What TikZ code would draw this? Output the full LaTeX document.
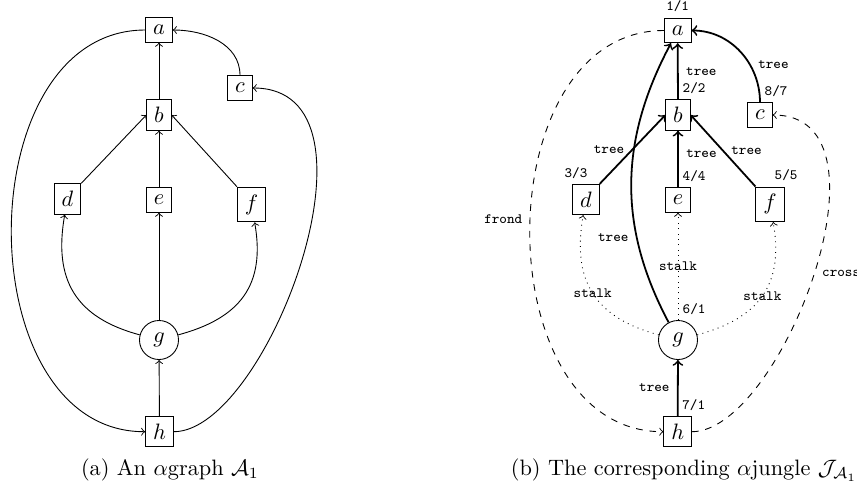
\documentclass[tikz,border=0pt]{standalone}
\usepackage{amsmath}
\usepackage{tikz}

\tikzset{
  vertex/.style={draw, rectangle},
  roundvertex/.style={draw, circle, inner sep=0pt, minimum size=17.5pt},
  lbl/.style={font=\fontsize{6.4}{7}\selectfont\ttfamily},
  numright/.style={xshift=7.2pt, yshift=-1pt},
  treeedge/.style={thick},
  stalkedge/.style={dotted},
  frondedge/.style={dashed},
  crossedge/.style={dashed},
  every label/.style={lbl},
}

\begin{document}
\begin{tikzpicture}[->, x=0.4484pt, y=-0.4484pt]
  \useasboundingbox (0,0) rectangle (857,489);
  % (a) the alpha graph
  \node[vertex] (a) at (159,30)        {$a$};
  \node[vertex] (b) at (159,115)       {$b$};
  \node[vertex] (c) at (240,88)        {$c$};
  \node[vertex] (d) at (67.5,199)      {$d$};
  \node[vertex] (e) at (159,200)       {$e$};
  \node[vertex] (f) at (251.5,204.5)   {$f$};
  \node[roundvertex] (g) at (159,340)  {$g$};
  \node[vertex] (h) at (159.5,431.7)   {$h$};
  \path (b) edge (a)
        (c) edge[out=90, in=0] (a)
        (d.north east) edge (b.west)
        (e) edge (b)
        (f.north west) edge (b.east)
        (g) edge (e)
            edge[out=165, in=-100, looseness=1.2] (d)
            edge[out=15, in=-80, looseness=1.2] (f)
        (h) edge (g)
            edge[out=0, in=0, out distance=42pt, in distance=64pt] (c)
        (a) edge[out=180, in=180, distance=80pt] (h);
  \node (capa) at (170,470) {(a) An $\alpha$graph $\mathcal{A}_1$};

  % (b) the alpha jungle
  \node[vertex, label={[yshift=-1pt]above:{1/1}}]  (ja) at (677.7,30.5)  {$a$};
  \node[vertex, label={[numright]above:{2/2}}]     (jb) at (678,115)     {$b$};
  \node[vertex, label={[numright]above:{8/7}}]     (jc) at (760,115)     {$c$};
  \node[vertex, label={[xshift=-4.5pt, yshift=-1pt]above:{3/3}}] (jd) at (586,199.5) {$d$};
  \node[vertex, label={[numright]above:{4/4}}]     (je) at (678,200)     {$e$};
  \node[vertex, label={[numright]above:{5/5}}]     (jf) at (770,204.3)   {$f$};
  \node[roundvertex, label={[numright]above:{6/1}}] (jg) at (678,340)    {$g$};
  \node[vertex, label={[numright]above:{7/1}}]     (jh) at (677.7,431.7) {$h$};
  \path (jb) edge[treeedge] node[lbl, right] {tree} (ja)
        (jc) edge[treeedge, out=90, in=0] node[lbl, right, pos=0.35] {tree} (ja)
        (jd.north east) edge[treeedge] node[lbl, left] {tree} (jb.west)
        (je) edge[treeedge] node[lbl, right, pos=0.6] {tree} (jb)
        (jf.north west) edge[treeedge] node[lbl, right] {tree} (jb.east)
        (jg) edge[treeedge, out=118, in=-118] node[lbl, left, pos=0.3] {tree} (ja)
             edge[stalkedge] node[lbl] {stalk} (je)
             edge[stalkedge, out=165, in=-100, looseness=1.2] node[lbl] {stalk} (jd)
             edge[stalkedge, out=15, in=-80, looseness=1.2] node[lbl] {stalk} (jf)
        (jh) edge[treeedge] node[lbl, left] {tree} (jg)
             edge[crossedge, out=0, in=0, out distance=40pt, in distance=58pt] node[lbl, right] {cross} (jc)
        (ja) edge[frondedge, out=180, in=180, distance=80pt] node[lbl, left, pos=0.48] {frond} (jh);
  \node (capb) at (684,470) {(b) The corresponding $\alpha$jungle $\mathcal{J}_{\mathcal{A}_1}$};
\end{tikzpicture}
\end{document}
